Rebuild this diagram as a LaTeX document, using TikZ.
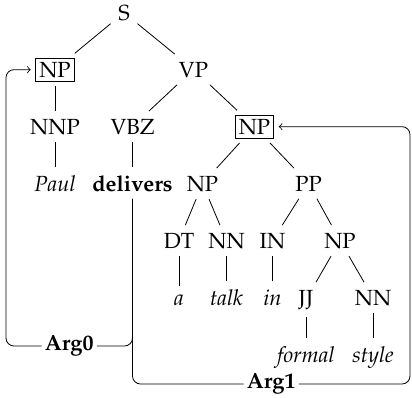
\documentclass[tikz,border=0pt,11pt]{standalone}
\usepackage[T1]{fontenc}
\usepackage{mathpazo}
\begin{document}
\begin{tikzpicture}[x=0.5pt,y=-0.5pt,
  lab/.style={anchor=base},
  boxed/.style={draw, inner sep=1.75pt, outer sep=2.5pt, anchor=base},
  argline/.style={rounded corners=4pt},
  arglab/.style={inner xsep=1.5pt, inner ysep=1pt, font=\bfseries}]
\useasboundingbox (0,0) rectangle (412,397);
% tree nodes
\node[lab] (S) at (124,20) {S};
\node[boxed] (NPa) at (55,77) {NP};
\node[lab] (VP) at (193.5,77) {VP};
\node[lab] (NNP) at (55,134) {NNP};
\node[lab] (VBZ) at (132.5,134) {VBZ};
\node[boxed] (NPb) at (254.5,134) {NP};
\node[lab] (Paul) at (55,191) {\textit{Paul}};
\node[lab] (deliv) at (132.5,191) {\textbf{delivers}};
\node[lab] (NPc) at (202.5,191) {NP};
\node[lab] (PP) at (308.5,191) {PP};
\node[lab] (DT) at (179,248) {DT};
\node[lab] (NNa) at (226.5,248) {NN};
\node[lab] (IN) at (272.5,248) {IN};
\node[lab] (NPd) at (340,248) {NP};
\node[lab] (a) at (179,305) {\textit{a}};
\node[lab] (talk) at (226.5,305) {\textit{talk}};
\node[lab] (in) at (272.5,305) {\textit{in}};
\node[lab] (JJ) at (306,305) {JJ};
\node[lab] (NNb) at (373,305) {NN};
\node[lab] (formal) at (306,362) {\textit{formal}};
\node[lab] (style) at (373,362) {\textit{style}};
% tree edges
\draw (S) -- (NPa);
\draw (S) -- (VP);
\draw (NPa) -- (NNP);
\draw (NNP) -- (Paul);
\draw (VP) -- (VBZ);
\draw (VP) -- (NPb);
\draw (VBZ) -- (deliv);
\draw (NPb) -- (NPc);
\draw (NPb) -- (PP);
\draw (NPc) -- (DT);
\draw (NPc) -- (NNa);
\draw (DT) -- (a);
\draw (NNa) -- (talk);
\draw (PP) -- (IN);
\draw (PP) -- (NPd);
\draw (IN) -- (in);
\draw (NPd) -- (JJ);
\draw (NPd) -- (NNb);
\draw (JJ) -- (formal);
\draw (NNb) -- (style);
% argument labels
\node[arglab] (arg0) at (69.25,346) {Arg0};
\node[arglab] (arg1) at (271.25,384) {Arg1};
\coordinate (L) at (6,346);
\coordinate (R) at (410,384);
\draw[argline] (deliv.south) |- (arg0.east);
\draw[argline,->] (arg0.west) -| (L |- NPa.west) -- (NPa.west);
\draw[argline] (deliv.south) |- (arg1.west);
\draw[argline,->] (arg1.east) -| (R |- NPb.east) -- (NPb.east);
\end{tikzpicture}
\end{document}
